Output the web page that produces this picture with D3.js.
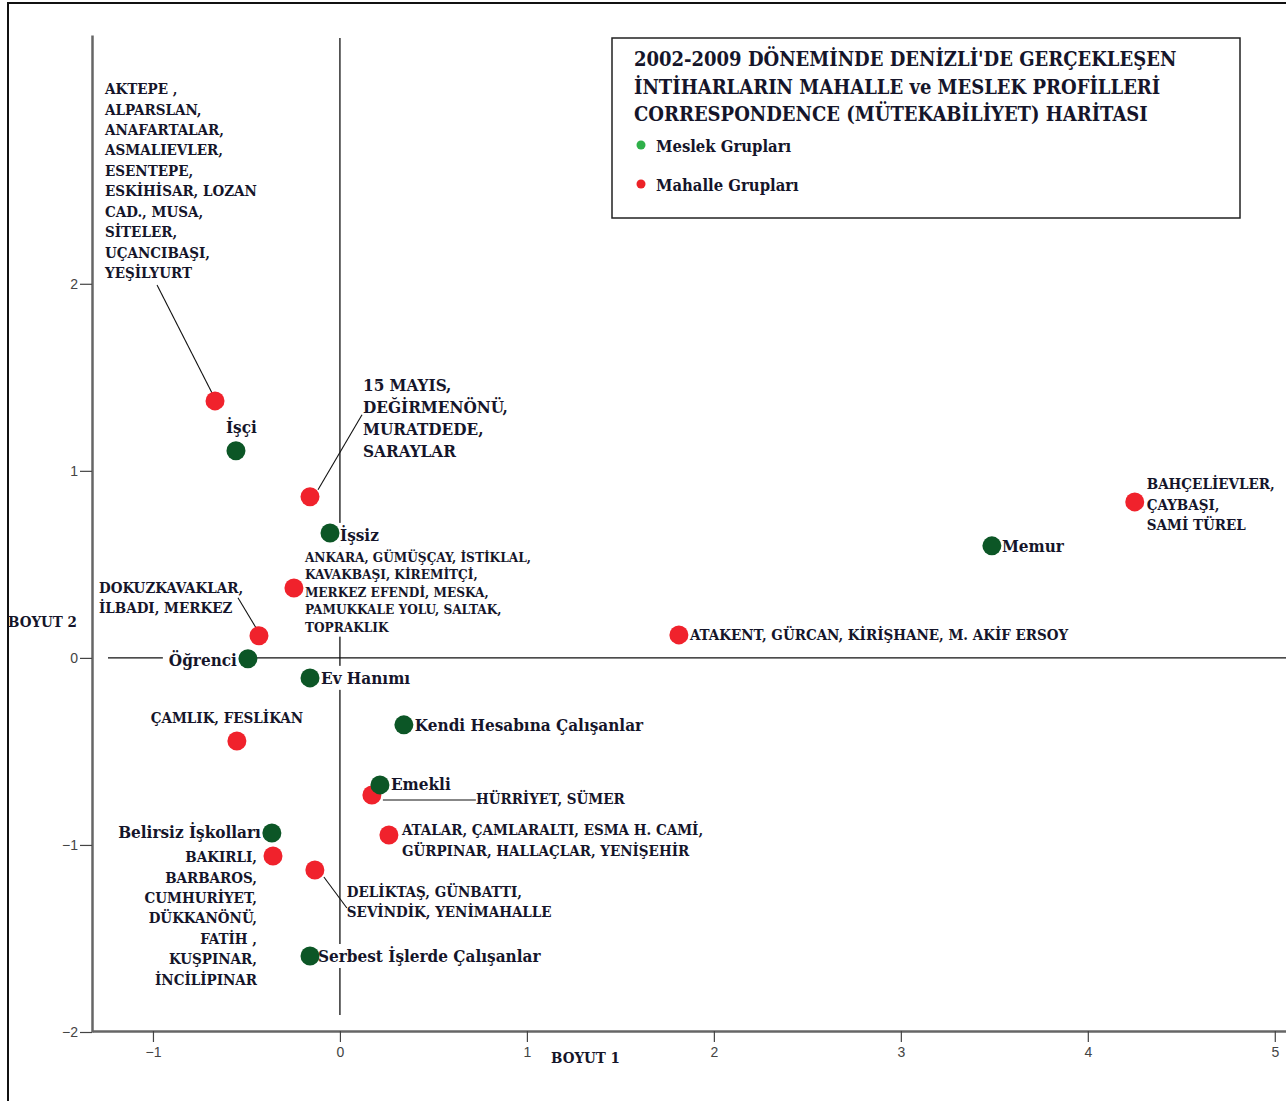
<!DOCTYPE html>
<html>
<head>
<meta charset="utf-8">
<script src="https://cdn.jsdelivr.net/npm/d3@7"></script>
<style>
  body { margin: 0; background: #fff; }
  text { font-family: "DejaVu Serif Condensed", "DejaVu Serif", serif; font-weight: bold; fill: #15152a; }
  .tick text { font-family: "Liberation Sans", sans-serif; font-weight: normal; fill: #444; font-size: 14px; }
</style>
</head>
<body>
<div id="chart"></div>
<script>
// meslek grupları (yeşil)
var mesNames = ["İşçi", "İşsiz", "Öğrenci", "Ev Hanımı", "Kendi Hesabına Çalışanlar", "Emekli",
                "Belirsiz İşkolları", "Serbest İşlerde Çalışanlar", "Memur"];
var mesX = [-0.556, -0.053, -0.492, -0.160, 0.342, 0.214, -0.364, -0.160, 3.487];
var mesY = [1.107, 0.668, -0.005, -0.107, -0.358, -0.679, -0.936, -1.594, 0.599];

// mahalle grupları (kırmızı)
var mahNames = [
  ["AKTEPE ,", "ALPARSLAN,", "ANAFARTALAR,", "ASMALIEVLER,", "ESENTEPE,", "ESKİHİSAR, LOZAN", "CAD., MUSA,", "SİTELER,", "UÇANCIBAŞI,", "YEŞİLYURT"],
  ["15 MAYIS,", "DEĞİRMENÖNÜ,", "MURATDEDE,", "SARAYLAR"],
  ["ANKARA, GÜMÜŞÇAY, İSTİKLAL,", "KAVAKBAŞI, KİREMİTÇİ,", "MERKEZ EFENDİ, MESKA,", "PAMUKKALE YOLU, SALTAK,", "TOPRAKLIK"],
  ["DOKUZKAVAKLAR,", "İLBADI, MERKEZ"],
  ["ATAKENT, GÜRCAN, KİRİŞHANE, M. AKİF ERSOY"],
  ["BAHÇELİEVLER,", "ÇAYBAŞI,", "SAMİ TÜREL"],
  ["ÇAMLIK, FESLİKAN"],
  ["HÜRRİYET, SÜMER"],
  ["ATALAR, ÇAMLARALTI, ESMA H. CAMİ,", "GÜRPINAR, HALLAÇLAR, YENİŞEHİR"],
  ["BAKIRLI,", "BARBAROS,", "CUMHURİYET,", "DÜKKANÖNÜ,", "FATİH ,", "KUŞPINAR,", "İNCİLİPINAR"],
  ["DELİKTAŞ, GÜNBATTI,", "SEVİNDİK, YENİMAHALLE"]
];
var mahX = [-0.668, -0.160, -0.246, -0.433, 1.813, 4.251, -0.551, 0.171, 0.262, -0.358, -0.134];
var mahY = [1.374, 0.861, 0.374, 0.118, 0.123, 0.834, -0.444, -0.733, -0.947, -1.059, -1.134];

var xTicks = [-1, 0, 1, 2, 3, 4, 5];
var yTicks = [-2, -1, 0, 1, 2];

var titleLines = ["2002-2009 DÖNEMİNDE DENİZLİ'DE GERÇEKLEŞEN",
                  "İNTİHARLARIN MAHALLE ve MESLEK PROFİLLERİ",
                  "CORRESPONDENCE (MÜTEKABİLİYET) HARİTASI"];
var legendNames = ["Meslek Grupları", "Mahalle Grupları"];

// label placement (pixel offsets from the point)
var mesLayout = [
  {dx: -10, dy: -24, anchor: "start", bg: false},
  {dx: 10, dy: 2, anchor: "start", bg: true},
  {dx: -11, dy: 1, anchor: "end", bg: true},
  {dx: 11, dy: 0, anchor: "start", bg: true},
  {dx: 11, dy: 0, anchor: "start", bg: false},
  {dx: 11, dy: -1, anchor: "start", bg: false},
  {dx: -11, dy: -1, anchor: "end", bg: false},
  {dx: 8, dy: 0, anchor: "start", bg: true},
  {dx: 10, dy: 0, anchor: "start", bg: false}
];
var mahLayout = [
  {dx: -110, dy: -312, lh: 20.45, size: 15, anchor: "start", leader: [-58, -116, -3, -8]},
  {dx: 53, dy: -112, lh: 22, size: 17, anchor: "start", leader: [8, -7, 52, -82]},
  {dx: 11, dy: -31, lh: 17.5, size: 13.5, anchor: "start", bg: true},
  {dx: -160, dy: -48, lh: 20, size: 15, anchor: "start", leader: [-21, -38, -3, -8]},
  {dx: 11, dy: 0, lh: 20, size: 15, anchor: "start"},
  {dx: 12, dy: -18, lh: 20.5, size: 15, anchor: "start"},
  {dx: -10, dy: -23, lh: 20, size: 15, anchor: "middle"},
  {dx: 104, dy: 4, lh: 20, size: 15, anchor: "start", leader: [11, 5, 104, 5]},
  {dx: 13, dy: -5, lh: 21, size: 15, anchor: "start"},
  {dx: -16, dy: 1, lh: 20.4, size: 15, anchor: "end"},
  {dx: 32, dy: 22, lh: 20, size: 15, anchor: "start", leader: [9, 7, 32, 38]}
];

var W = 1286, H = 1101;
var svg = d3.select("#chart").append("svg")
  .attr("width", W).attr("height", H);

// outer frame
svg.append("rect").attr("x", 8).attr("y", 3).attr("width", 1400).attr("height", 1200)
  .attr("fill", "none").attr("stroke", "#111").attr("stroke-width", 2);

var x = d3.scaleLinear().domain([-1.326, 5.06]).range([92, 1286]);
var y = d3.scaleLinear().domain([-2, 3.33]).range([1032, 35]);

// axes
var gy = svg.append("g").attr("transform", "translate(92,0)")
  .call(d3.axisLeft(y).tickValues(yTicks).tickSize(12).tickSizeOuter(0).tickPadding(2).tickFormat(d3.format("d")));
var gx = svg.append("g").attr("transform", "translate(0,1031)")
  .call(d3.axisBottom(x).tickValues(xTicks).tickSize(11).tickSizeOuter(0).tickPadding(5).tickFormat(d3.format("d")));
[gx, gy].forEach(function(g) {
  g.select(".domain").attr("stroke", "#666").attr("stroke-width", 2.5);
  g.selectAll(".tick line").attr("stroke", "#444").attr("stroke-width", 1.2);
});

// reference lines at 0
svg.append("line").attr("x1", x(0)).attr("x2", x(0)).attr("y1", 38).attr("y2", 1015)
  .attr("stroke", "#111").attr("stroke-width", 1.3);
svg.append("line").attr("x1", 108).attr("x2", W).attr("y1", y(0)).attr("y2", y(0))
  .attr("stroke", "#111").attr("stroke-width", 1.3);

// axis titles
svg.append("text").attr("x", 8).attr("y", 622).attr("dy", "0.35em")
  .style("font-size", "15px").text("BOYUT 2");
svg.append("text").attr("x", 551).attr("y", 1058).attr("dy", "0.35em")
  .style("font-size", "15px").text("BOYUT 1");

var labels = svg.append("g");

// meslek labels
mesNames.forEach(function(name, i) {
  var L = mesLayout[i];
  var t = labels.append("text")
    .attr("x", x(mesX[i]) + L.dx).attr("y", y(mesY[i]) + L.dy).attr("dy", "0.35em")
    .attr("text-anchor", L.anchor).style("font-size", "17px").text(name);
  if (L.bg) {
    var b = t.node().getBBox();
    labels.insert("rect", function() { return t.node(); })
      .attr("x", b.x - 6).attr("y", b.y - 2).attr("width", b.width + 12).attr("height", b.height + 4)
      .attr("fill", "#fff");
  }
});

// mahalle labels
mahNames.forEach(function(lines, i) {
  var L = mahLayout[i];
  var px = x(mahX[i]), py = y(mahY[i]);
  var t = labels.append("text").attr("text-anchor", L.anchor).style("font-size", L.size + "px");
  lines.forEach(function(s, j) {
    t.append("tspan").attr("x", px + L.dx).attr("y", py + L.dy + j * L.lh).attr("dy", "0.35em").text(s);
  });
  if (L.bg) {
    var b = t.node().getBBox();
    labels.insert("rect", function() { return t.node(); })
      .attr("x", b.x - 2).attr("y", b.y - 2).attr("width", b.width + 4).attr("height", b.height + 4)
      .attr("fill", "#fff");
  }
  if (L.leader) {
    svg.append("line")
      .attr("x1", px + L.leader[0]).attr("y1", py + L.leader[1])
      .attr("x2", px + L.leader[2]).attr("y2", py + L.leader[3])
      .attr("stroke", "#111").attr("stroke-width", 1.1);
  }
});

// points: red first, green on top
svg.append("g").selectAll("circle").data(mahX).enter().append("circle")
  .attr("cx", function(d) { return x(d); })
  .attr("cy", function(d, i) { return y(mahY[i]); })
  .attr("r", 9.5).attr("fill", "#f0222c");
svg.append("g").selectAll("circle").data(mesX).enter().append("circle")
  .attr("cx", function(d) { return x(d); })
  .attr("cy", function(d, i) { return y(mesY[i]); })
  .attr("r", 9.5).attr("fill", "#0c5626");

// title box + legend
svg.append("rect").attr("x", 612).attr("y", 38).attr("width", 628).attr("height", 180)
  .attr("fill", "#fff").attr("stroke", "#222").attr("stroke-width", 1.5);
titleLines.forEach(function(s, j) {
  svg.append("text").attr("x", 634).attr("y", 59 + j * 27.5).attr("dy", "0.35em")
    .style("font-size", "20px").text(s);
});
var legColors = ["#2fb04a", "#ec2227"];
legendNames.forEach(function(s, j) {
  svg.append("circle").attr("cx", 641).attr("cy", 145 + j * 39).attr("r", 4.5).attr("fill", legColors[j]);
  svg.append("text").attr("x", 656).attr("y", 146 + j * 39).attr("dy", "0.35em")
    .style("font-size", "16.5px").text(s);
});
</script>
</body>
</html>
